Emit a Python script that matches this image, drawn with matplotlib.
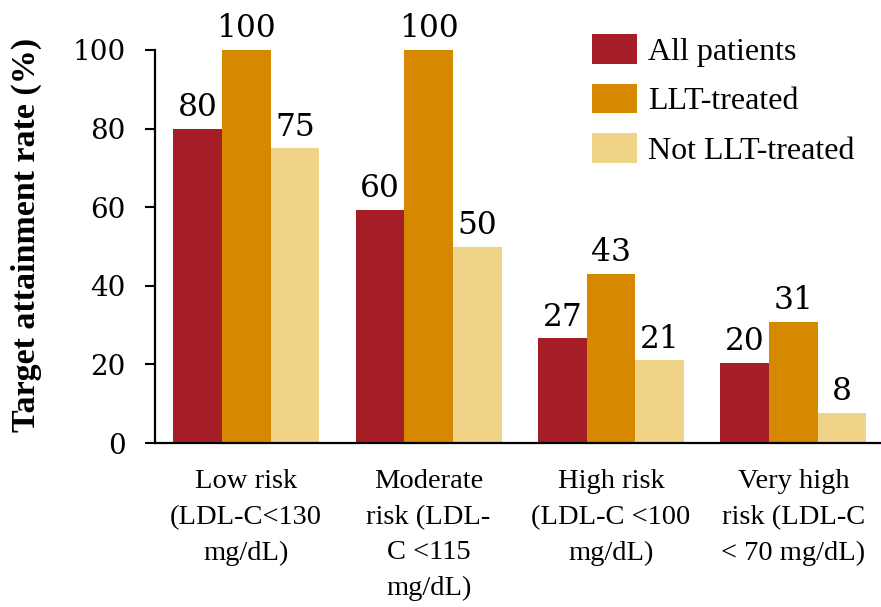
import numpy as np
import matplotlib
matplotlib.use('Agg')
import matplotlib.pyplot as plt

# risk groups and target attainment rate (%)
categories = ['Low risk\n(LDL-C<130\nmg/dL)',
              'Moderate\nrisk (LDL-\nC <115\nmg/dL)',
              'High risk\n(LDL-C <100\nmg/dL)',
              'Very high\nrisk (LDL-C\n< 70 mg/dL)']
series_names = ['All patients', 'LLT-treated', 'Not LLT-treated']
all_patients = [80, 59.4, 26.7, 20.4]
llt_treated = [100, 100, 43, 30.8]
not_llt_treated = [75, 50, 21, 7.7]
all_labels = ['80', '60', '27', '20']
llt_labels = ['100', '100', '43', '31']
not_llt_labels = ['75', '50', '21', '8']

colors = ['#A51D25', '#D68900', '#EFD387']

fig = plt.figure(figsize=(8.81, 6.07), dpi=100)
ax = fig.add_axes([155/881, 164/607, 1 - 155/881, 393/607])

x = np.arange(len(categories))
w = 0.267
lsSeries = [all_patients, llt_treated, not_llt_treated]
lsLabels = [all_labels, llt_labels, not_llt_labels]
for i, (vals, labs) in enumerate(zip(lsSeries, lsLabels)):
    bars = ax.bar(x + (i - 1) * w, vals, width=w, color=colors[i],
                  linewidth=0, label=series_names[i])
    for b, lab in zip(bars, labs):
        ax.annotate(lab, (b.get_x() + b.get_width() / 2, b.get_height()),
                    xytext=(0, 4), textcoords='offset points',
                    ha='center', va='bottom', fontsize=22.5,
                    family='DejaVu Serif')

ax.set_xlim(-0.5, 3.48)
ax.set_ylim(0, 100)
ax.set_yticks([0, 20, 40, 60, 80, 100])
ax.set_xticks(x)
ax.set_xticklabels(categories, fontsize=20.5, family='Liberation Serif',
                   linespacing=1.55, va='top')
for lab in ax.get_yticklabels():
    lab.set_fontfamily('DejaVu Serif')
    lab.set_fontsize(20)
ax.tick_params(axis='y', length=7, width=1.5, direction='out', pad=14)
ax.tick_params(axis='x', length=0, pad=19)

for s in ['top', 'right']:
    ax.spines[s].set_visible(False)
for s in ['left', 'bottom']:
    ax.spines[s].set_linewidth(1.6)

ax.set_ylabel('Target attainment rate (%)', fontsize=24.5,
              family='Liberation Serif', fontweight='bold')
ax.yaxis.set_label_coords(-113/726, 0.53)

ax.legend(loc='upper left', bbox_to_anchor=(592/881, 1 - 34/607),
          bbox_transform=fig.transFigure, frameon=False,
          prop={'family': 'Liberation Serif', 'size': 23},
          handlelength=1.4, handleheight=1.05, handletextpad=0.35,
          labelspacing=0.53, borderpad=0, borderaxespad=0)

fig.savefig('out.png', dpi=100)
